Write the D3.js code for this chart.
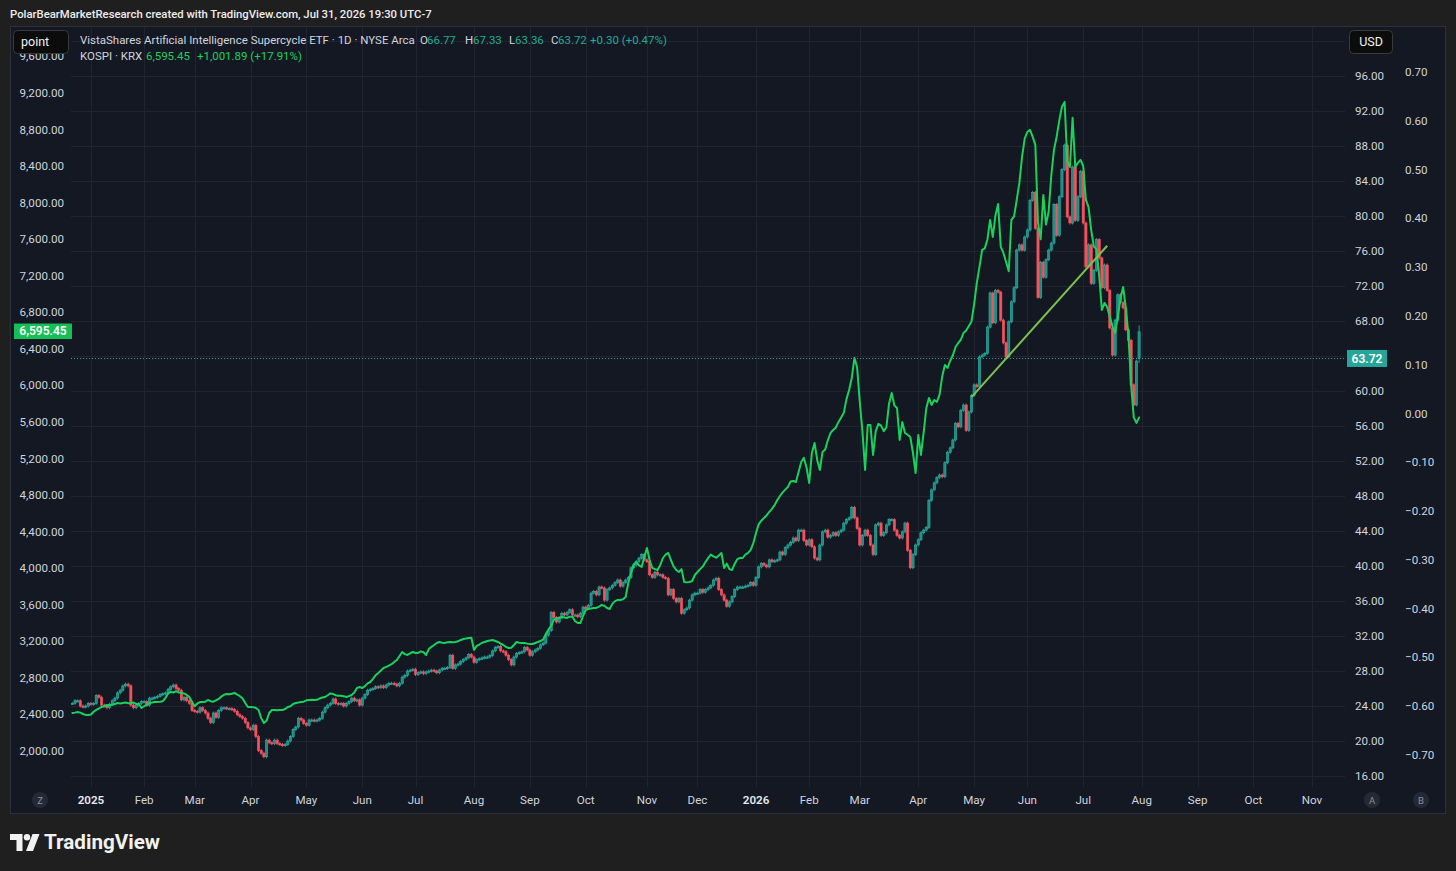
<!DOCTYPE html>
<html><head><meta charset="utf-8">
<script src="https://cdn.jsdelivr.net/npm/d3@7"></script>
<style>
html,body{margin:0;padding:0;background:#1f1f1f;overflow:hidden;}
svg{display:block;font-family:Roboto,"Liberation Sans",sans-serif;}
</style></head><body>
<svg id="c" width="1456" height="871"></svg>
<script>
// ---------------- DATA ----------------
const headerText = "PolarBearMarketResearch created with TradingView.com, Jul 31, 2026 19:30 UTC-7";
const etfTitle = "VistaShares Artificial Intelligence Supercycle ETF \u00b7 1D \u00b7 NYSE Arca";
const etfOHLC = {o: "66.77", h: "67.33", l: "63.36", c: "63.72"};
const etfLastOpen = 66.77, etfLastHigh = 67.33, etfLastLow = 63.36, etfLastClose = 63.72;
const etfChange = "+0.30 (+0.47%)";
const kospiTitle = "KOSPI \u00b7 KRX";
const kospiLast = 6595.45;
const kospiLastText = "6,595.45";
const kospiChange = "+1,001.89 (+17.91%)";

const months = ["2024-12","2025-01","2025-02","2025-03","2025-04","2025-05","2025-06","2025-07","2025-08","2025-09","2025-10","2025-11","2025-12","2026-01","2026-02","2026-03","2026-04","2026-05","2026-06","2026-07"];

// VistaShares AI Supercycle ETF daily closes (USD), one row per month
const etfClose = [
 [24.3,24.6,24.6,24.0,23.9,24.0,24.3],
 [24.2,24.3,25.2,25.0,24.1,24.0,23.8,24.2,24.6,24.9,25.5,25.8,26.3,26.5,26.3,24.1,23.8,24.1,24.3,24.5],
 [24.5,24.1,24.9,24.9,25.0,25.1,25.3,25.4,25.5,25.9,26.2,26.4,26.0,25.8,24.7,25.0,24.6,24.3,23.5],
 [23.4,23.3,23.8,23.5,23.2,22.6,22.1,23.2,22.7,23.5,23.8,23.8,23.7,23.7,23.6,23.4,23.0,22.8,22.6,22.1,21.5],
 [21.3,21.8,20.5,18.9,18.6,18.2,20.1,19.8,19.7,20.1,19.7,19.6,19.5,19.6,20.0,20.5,21.3,21.6,22.6,22.4,22.0],
 [21.8,22.4,22.4,22.3,22.4,22.6,23.3,23.8,24.1,24.3,24.8,24.3,24.2,24.3,24.0,24.3,24.5,24.9,24.6,24.7,24.1],
 [24.9,25.3,25.8,25.9,26.0,26.2,26.1,26.3,26.1,26.4,26.6,26.6,26.5,26.3,26.6,27.3,27.5,28.0,28.1,28.2],
 [27.6,27.8,27.9,27.7,27.9,28.0,28.1,28.0,27.8,28.1,28.3,28.3,28.4,29.8,28.3,28.7,28.8,29.1,29.3,29.5,29.9,29.6],
 [29.0,29.3,29.4,29.5,29.6,29.6,29.8,30.3,30.7,30.8,30.3,30.2,29.8,29.3,28.7,29.6,30.0,30.1,30.2,30.7,30.4],
 [29.8,30.2,30.4,30.6,31.0,31.2,32.1,32.6,34.7,34.1,33.6,34.1,34.6,34.4,34.7,35.0,34.4,34.4,34.2,34.6,35.3],
 [35.2,35.5,36.9,37.1,36.7,37.6,37.5,36.1,37.3,37.5,37.8,38.1,38.4,37.7,38.1,38.4,38.7,39.8,40.1,40.5,40.9,41.3,40.7],
 [40.5,39.0,38.7,39.3,39.0,39.0,38.7,38.6,36.7,37.3,36.3,35.9,36.3,34.6,35.0,35.2,36.1,36.7,36.9],
 [36.9,37.3,37.0,37.3,37.5,37.8,38.4,38.6,37.3,36.7,36.1,35.4,35.9,36.5,37.3,37.6,37.6,37.6,37.7,37.8,38.1,37.8],
 [38.7,39.9,40.3,40.1,39.9,40.7,40.5,40.6,40.7,41.6,41.3,42.1,42.4,42.7,43.2,42.9,44.1,44.1,42.9,42.4],
 [43.0,42.2,40.9,40.7,42.4,43.9,44.1,43.3,43.5,43.8,43.5,43.9,44.1,44.9,45.3,45.5,46.7,45.5,44.3],
 [42.4,43.5,44.1,43.5,42.4,41.3,44.7,44.9,43.5,43.8,44.7,45.3,45.3,44.1,43.5,43.2,43.9,44.9,41.8,39.8,41.3,42.4],
 [43.0,43.8,44.1,44.4,47.5,48.7,49.5,50.1,50.4,50.2,51.8,53.0,53.5,54.4,56.3,55.9,57.8,58.4,55.5,57.6,59.5],
 [60.7,60.5,63.9,64.1,64.3,67.3,71.2,67.8,71.5,71.3,68.1,65.5,63.9,67.9,70.2,71.8,76.1,76.7,76.1,77.6],
 [78.4,81.8,82.7,78.6,70.7,74.7,73.0,75.0,76.1,76.9,81.3,77.8,82.2,85.3,88.1,79.9,79.2,85.6,79.5,82.2,85.1],
 [79.2,74.2,76.7,72.3,73.8,77.3,75.2,71.8,74.4,71.5,67.2,64.1,68.1,71.0,70.1,69.5,67.0,65.8,60.7,58.4,63.42,63.72]
];

// KOSPI overlay (points), one row per month on the same trading days
const kospiClose = [
 [2416,2420,2427,2420,2405,2395,2394],
 [2400,2430,2450,2465,2482,2490,2503,2500,2505,2515,2525,2520,2525,2530,2522,2525,2530,2515,2514,2470],
 [2490,2505,2525,2530,2536,2536,2540,2545,2580,2630,2646,2640,2655,2640,2635,2630,2613,2590,2540],
 [2490,2520,2536,2536,2540,2558,2545,2540,2555,2570,2595,2615,2624,2620,2626,2635,2618,2600,2575,2525,2482],
 [2482,2480,2470,2449,2360,2306,2330,2416,2449,2449,2445,2449,2449,2460,2482,2490,2515,2525,2530,2536,2540],
 [2555,2558,2560,2558,2560,2575,2585,2591,2610,2630,2624,2610,2605,2605,2600,2591,2600,2613,2640,2690,2700],
 [2689,2710,2740,2755,2790,2830,2854,2880,2908,2920,2935,2950,2975,2996,3040,3083,3060,3051,3070,3083],
 [3073,3073,3090,3080,3051,3115,3140,3160,3182,3193,3185,3182,3190,3193,3190,3193,3200,3215,3226,3230,3237,3240],
 [3105,3150,3165,3185,3193,3204,3210,3215,3204,3193,3175,3160,3140,3127,3130,3160,3193,3185,3182,3182,3175],
 [3171,3171,3182,3193,3204,3220,3280,3330,3370,3434,3450,3456,3466,3460,3456,3470,3470,3420,3401,3401,3480],
 [3543,3555,3560,3565,3565,3580,3598,3590,3565,3554,3610,3640,3653,3653,3660,3685,3839,3948,4040,4068,4030,4014,4123],
 [4222,4090,4003,3990,3981,4036,4112,4150,4167,4090,4020,3981,3959,3990,3850,3845,3850,3860,3926],
 [3959,3990,4020,4068,4110,4150,4130,4115,4140,4167,4003,4050,3990,3981,4050,4100,4112,4112,4150,4167,4200,4276],
 [4386,4480,4520,4550,4580,4616,4650,4692,4747,4790,4830,4860,4890,4950,4955,4944,5053,5163,5207,5100],
 [4933,5261,5371,5185,5075,5272,5300,5400,5480,5513,5540,5601,5650,5700,5850,5950,6082,6301,6200],
 [5820,5500,5075,5568,5568,5239,5500,5580,5560,5500,5540,5800,5918,5780,5754,5404,5601,5480,5460,5436,5261,5042],
 [5458,5239,5480,5750,5863,5787,5841,5820,5900,6100,6224,6192,6270,6330,6421,6465,6500,6575,6600,6650,6700],
 [6890,7122,7297,7483,7500,7600,7811,7625,7860,7986,7516,7450,7350,7250,7811,7850,8030,8216,8501,8700],
 [8774,8796,8720,8632,7778,7600,8085,7760,7900,8300,8577,8720,8900,9050,9103,8450,8391,8928,8391,8435,8468],
 [8400,8030,7950,7700,7520,7490,7200,6826,6903,6859,6750,6650,6575,6750,6950,7078,6850,6550,6000,5650,5590,5650]
];

// drawn trendline (date, USD)
const trendDates = ["2026-04-30","2026-07-15"];
const trendValues = [59.3, 76.6];

// axis ticks (grid lines on every right tick; labels hidden under the tag/button are omitted)
const leftTicks = [2000,2400,2800,3200,3600,4000,4400,4800,5200,5600,6000,6400,6800,7200,7600,8000,8400,8800,9200,9600];
const rightTicks = [16,20,24,28,32,36,40,44,48,52,56,60,64,68,72,76,80,84,88,92,96,100];
const rightLabels = [16,20,24,28,32,36,40,44,48,52,56,60,68,72,76,80,84,88,92,96];
const farTicks = [-0.7,-0.6,-0.5,-0.4,-0.3,-0.2,-0.1,0,0.1,0.2,0.3,0.4,0.5,0.6,0.7];
const monthNames = ["Jan","Feb","Mar","Apr","May","Jun","Jul","Aug","Sep","Oct","Nov","Dec"];
const holidays = ["2024-12-25","2025-01-01","2025-01-09","2025-01-20","2025-02-17","2025-04-18","2025-05-26","2025-06-19","2025-07-04","2025-09-01","2025-11-27","2025-12-25","2026-01-01","2026-01-19","2026-02-16","2026-04-03","2026-05-25","2026-06-19","2026-07-03","2026-09-07","2026-11-26"];

// ---------------- CALENDAR ----------------
const hol = new Set(holidays);
function tradingDays(from, to){
  const out = [];
  const end = new Date(to + "T00:00:00Z");
  for (let d = new Date(from + "T00:00:00Z"); d <= end; d.setUTCDate(d.getUTCDate()+1)){
    const wd = d.getUTCDay(); const s = d.toISOString().slice(0,10);
    if (wd > 0 && wd < 6 && !hol.has(s)) out.push(s);
  }
  return out;
}
const allDays = tradingDays("2024-12-01","2026-11-30");
const idx0 = allDays.indexOf("2025-01-02");
const dayIndex = new Map(allDays.map((d,i)=>[d, i-idx0]));

function buildSeries(rows){
  const out = [];
  months.forEach((m,k)=>{
    const days = allDays.filter(d=>d.startsWith(m));
    const vals = rows[k] || [];
    const ds = k === 0 ? days.slice(days.length - vals.length) : days;
    vals.forEach((v,j)=>{ if (ds[j]) out.push({date: ds[j], i: dayIndex.get(ds[j]), v}); });
  });
  return out;
}

// ---------------- SCALES ----------------
const P = {x0: 71, x1: 1345, y0: 27, y1: 787};
const x = d3.scaleLinear().domain([-7.5, 471.4]).range([P.x0, P.x1]);
const yL = d3.scaleLinear().domain([2000, 9200]).range([751, 93]);
const yR = d3.scaleLinear().domain([16, 96]).range([776, 76]);
const yF = d3.scaleLinear().domain([-0.7, 0.7]).range([755, 72]);

const C = {
  page: "#1f1f1f", panel: "#141823", border: "#2c303b", grid: "#20242f",
  text: "#d1d4dc", up: "#26a69a", down: "#f7525f", kospi: "#18d25c",
  trend: "#7cc14e", kospiTag: "#14bf55"
};

const svg = d3.select("#c");
svg.append("rect").attr("width",1456).attr("height",871).attr("fill",C.page);

function fit(sel, target){
  const n = sel.node(); const w = n.getComputedTextLength();
  if (w > 0){ const fs = parseFloat(sel.attr("font-size")); sel.attr("font-size", (fs*target/w).toFixed(2)); }
  return sel;
}

// header
fit(svg.append("text").attr("x",10).attr("y",17.5).attr("fill","#ededed").attr("font-size",12)
  .attr("font-weight",500).text(headerText), 422);

// panel
svg.append("rect").attr("x",10.5).attr("y",26.5).attr("width",1435).attr("height",787)
  .attr("fill",C.panel).attr("stroke",C.border);

// grid
const gGrid = svg.append("g");
const monthTicks = [];
for (let y = 2025; y <= 2026; y++){
  for (let m = 0; m < 12; m++){
    if (y === 2026 && m > 10) break;
    const key = y + "-" + String(m+1).padStart(2,"0");
    const first = allDays.find(d=>d.startsWith(key));
    if (first) monthTicks.push({i: dayIndex.get(first), label: m === 0 ? String(y) : monthNames[m], year: m === 0});
  }
}
gGrid.selectAll("line.v").data(monthTicks).join("line")
  .attr("x1",d=>Math.round(x(d.i))+0.5).attr("x2",d=>Math.round(x(d.i))+0.5)
  .attr("y1",P.y0).attr("y2",P.y1).attr("stroke",C.grid).attr("stroke-width",1);
gGrid.selectAll("line.h").data(rightTicks).join("line")
  .attr("x1",P.x0).attr("x2",P.x1)
  .attr("y1",d=>Math.round(yR(d))+0.5).attr("y2",d=>Math.round(yR(d))+0.5)
  .attr("stroke",C.grid).attr("stroke-width",1);

// clip
svg.append("clipPath").attr("id","clip").append("rect")
  .attr("x",P.x0).attr("y",P.y0).attr("width",P.x1-P.x0).attr("height",P.y1-P.y0);
const gPlot = svg.append("g").attr("clip-path","url(#clip)");

// candles
const etf = buildSeries(etfClose);
etf.forEach((d,k)=>{
  d.c = d.v;
  d.prev = k === 0 ? d.v : etf[k-1].v;
  d.o = d.prev;
  if (k === etf.length-1){ d.o = etfLastOpen; d.h = etfLastHigh; d.l = etfLastLow; d.c = etfLastClose; }
  else { d.h = Math.max(d.o,d.c); d.l = Math.min(d.o,d.c); }
  d.up = d.c >= d.prev;
});
const gC = gPlot.append("g");
gC.selectAll("line").data(etf).join("line")
  .attr("x1",d=>x(d.i)).attr("x2",d=>x(d.i))
  .attr("y1",d=>yR(d.h)-1.5).attr("y2",d=>yR(d.l)+1.5)
  .attr("stroke",d=>d.up?C.up:C.down).attr("stroke-width",0.9);
gC.selectAll("rect").data(etf).join("rect")
  .attr("x",d=>x(d.i)-1.1).attr("width",2.2)
  .attr("y",d=>Math.min(yR(d.o),yR(d.c)))
  .attr("height",d=>Math.max(1.2, Math.abs(yR(d.o)-yR(d.c))))
  .attr("fill",d=>d.up?"#1f8a80":C.down)
  .attr("stroke",d=>d.up?"#2bb3a5":C.down).attr("stroke-width",0.6);

// KOSPI line
const kospi = buildSeries(kospiClose);
gPlot.append("path").datum(kospi)
  .attr("d", d3.line().x(d=>x(d.i)).y(d=>yL(d.v)))
  .attr("fill","none").attr("stroke",C.kospi).attr("stroke-width",2)
  .attr("stroke-linejoin","round").attr("stroke-linecap","round");

// trendline
const trend = trendDates.map((d,k)=>({i: dayIndex.get(d), v: trendValues[k]}));
gPlot.append("path").datum(trend)
  .attr("d", d3.line().x(d=>x(d.i)).y(d=>yR(d.v)))
  .attr("stroke",C.trend).attr("stroke-width",2).attr("fill","none");

// price line
gPlot.append("line").attr("x1",P.x0).attr("x2",P.x1)
  .attr("y1",Math.round(yR(etfLastClose))+0.5).attr("y2",Math.round(yR(etfLastClose))+0.5)
  .attr("stroke",C.up).attr("stroke-width",1).attr("stroke-dasharray","1,2");

// axes labels
const fsAxis = 11.6;
svg.append("g").selectAll("text").data(leftTicks).join("text")
  .attr("x",64).attr("y",d=>yL(d)+4).attr("text-anchor","end")
  .attr("fill",C.text).attr("font-size",fsAxis).text(d=>d3.format(",.2f")(d));
svg.append("g").selectAll("text").data(rightLabels).join("text")
  .attr("x",1355).attr("y",d=>yR(d)+4)
  .attr("fill",C.text).attr("font-size",fsAxis).text(d=>d3.format(".2f")(d));
svg.append("g").selectAll("text").data(farTicks).join("text")
  .attr("x",1405).attr("y",d=>yF(d)+4)
  .attr("fill",C.text).attr("font-size",fsAxis).text(d=>d3.format(".2f")(d).replace("-","\u2212"));
svg.append("g").selectAll("text").data(monthTicks).join("text")
  .attr("x",d=>x(d.i)).attr("y",804).attr("text-anchor","middle")
  .attr("fill",d=>d.year?"#e6e8ee":C.text).attr("font-weight",d=>d.year?600:400)
  .attr("font-size",fsAxis).text(d=>d.label);

// price tags
const yLast = yR(etfLastClose);
svg.append("rect").attr("x",1347).attr("y",yLast-8.5).attr("width",40).attr("height",17).attr("fill",C.up);
svg.append("text").attr("x",1367).attr("y",yLast+4.2).attr("text-anchor","middle")
  .attr("fill","#fff").attr("font-size",12).attr("font-weight",600).text(etfOHLC.c);
const yK = yL(kospiLast);
svg.append("rect").attr("x",14).attr("y",yK-7.5).attr("width",58).attr("height",15.5).attr("fill",C.kospiTag);
svg.append("text").attr("x",43).attr("y",yK+4).attr("text-anchor","middle")
  .attr("fill","#fff").attr("font-size",12).attr("font-weight",600).text(kospiLastText);

// buttons
function button(x0,y0,w,h,label,tx,anchor){
  svg.append("rect").attr("x",x0).attr("y",y0).attr("width",w).attr("height",h).attr("rx",4)
    .attr("fill","#0c0c0c").attr("stroke","#3a3a3a");
  svg.append("text").attr("x",tx).attr("y",y0+h/2+4.3).attr("text-anchor",anchor)
    .attr("fill","#f0f0f0").attr("font-size",12.5).text(label);
}
button(13.5,30.5,55,23,"point",21,"start");
button(1349.5,30.5,43,23,"USD",1371,"middle");

// legend
const teal = "#22ab94", green = "#1fcf5e", lg = "#d1d4dc";
const t1 = svg.append("text").attr("x",80).attr("y",44).attr("fill",lg).attr("font-size",12).text(etfTitle);
fit(t1, 335);
const fsL = parseFloat(t1.attr("font-size"));
const parts1 = [[420,"O",lg],[427,etfOHLC.o,teal],[465,"H",lg],[473,etfOHLC.h,teal],[509,"L",lg],[515,etfOHLC.l,teal],[551,"C",lg],[558,etfOHLC.c,teal],[590,etfChange,teal]];
parts1.forEach(p=>svg.append("text").attr("x",p[0]).attr("y",44).attr("fill",p[2]).attr("font-size",fsL).text(p[1]));
svg.append("text").attr("x",80).attr("y",60).attr("fill",lg).attr("font-size",fsL).text(kospiTitle);
svg.append("text").attr("x",146).attr("y",60).attr("fill",green).attr("font-size",fsL).text(kospiLastText);
svg.append("text").attr("x",197).attr("y",60).attr("fill",green).attr("font-size",fsL).text(kospiChange);

// scale buttons
[[40,"Z"],[1372,"A"],[1421,"B"]].forEach(b=>{
  svg.append("circle").attr("cx",b[0]).attr("cy",800).attr("r",8).attr("fill","#252935");
  svg.append("text").attr("x",b[0]).attr("y",803.5).attr("text-anchor","middle")
    .attr("fill","#8b8f9a").attr("font-size",9.5).text(b[1]);
});

// footer logo
const gl = svg.append("g").attr("fill","#f2f2f2");
gl.append("path").attr("d","M10,834 H22.5 V851 H16.5 V840 H10 Z");
gl.append("circle").attr("cx",27).attr("cy",837.3).attr("r",3.2);
gl.append("path").attr("d","M32.5,834 H39.5 L33,851 H26 Z");
fit(svg.append("text").attr("x",44).attr("y",849).attr("fill","#f2f2f2").attr("font-size",20)
  .attr("font-weight",700).text("TradingView"), 116);
</script></body></html>
